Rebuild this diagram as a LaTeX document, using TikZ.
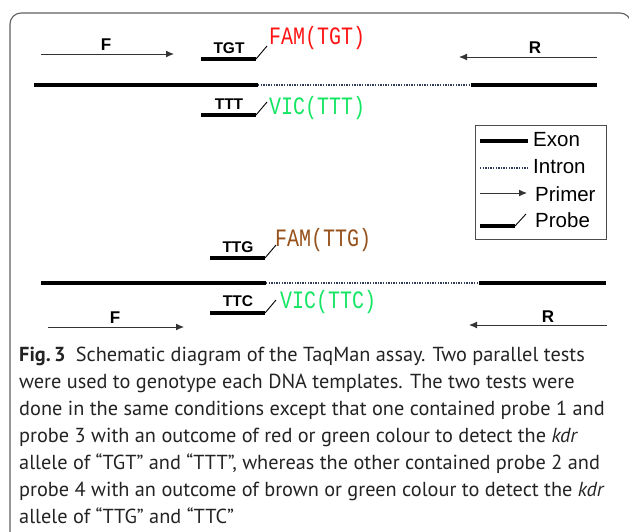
\documentclass[tikz,border=0pt]{standalone}
\usepackage{fontspec}
\usepackage{graphicx}
\setmainfont{Liberation Sans}
\newfontfamily\capfont{PT Sans}
\newfontfamily\famfont{Liberation Mono}
\usetikzlibrary{arrows.meta}
\definecolor{famred}{RGB}{255,20,20}
\definecolor{vicgreen}{RGB}{20,230,100}
\definecolor{brownc}{RGB}{150,80,25}
\definecolor{framec}{RGB}{95,95,95}
\definecolor{dotc}{RGB}{50,60,90}
\definecolor{capc}{RGB}{35,35,35}
\tikzset{
  exon/.style={line width=4pt},
  intron/.style={line width=1.3pt, color=dotc, dash pattern=on 1.3pt off 1.3pt},
  primer/.style={-{Latex[length=8pt,width=7pt]}, line width=1pt, color=black!80},
  probebar/.style={line width=3.8pt},
  probeslant/.style={line width=0.9pt},
  lab/.style={font=\bfseries\fontsize{17}{17}\selectfont, inner sep=0pt},
  seq/.style={font=\bfseries\fontsize{15.5}{15.5}\selectfont, inner sep=0pt},
  dye/.style={font=\famfont\fontsize{25}{25}\selectfont, inner sep=0pt, anchor=west},
  legtext/.style={font=\fontsize{20.5}{20.5}\selectfont, inner sep=0pt, anchor=west},
  capline/.style={font=\capfont\fontsize{20.3}{20.3}\selectfont, text=capc, inner sep=0pt, anchor=base west},
}
\begin{document}
\begin{tikzpicture}[x=1pt,y=-1pt]
\useasboundingbox (0,0) rectangle (629,531);
% frame
\begin{scope}
\clip (0,0) rectangle (629,531);
\draw[framec, line width=1.1pt, rounded corners=11pt] (10,13) rectangle (631,545);
\end{scope}

% ---------- Test 1 ----------
\coordinate (f1a) at (41,54); \coordinate (f1b) at (174,54);
\draw[primer] (f1a) -- (f1b);
\node[lab] (F1) at (106,45) {F};
\coordinate (r1a) at (597,57); \coordinate (r1b) at (459,57);
\draw[primer] (r1a) -- (r1b);
\node[lab] (R1) at (535,48) {R};

\coordinate (e1a) at (34,85); \coordinate (e1b) at (258,85);
\coordinate (i1b) at (469,85); \coordinate (e1c) at (471,85); \coordinate (e1d) at (597,85);
\draw[exon] (e1a) -- (e1b);
\draw[intron] (e1b) -- (i1b);
\draw[exon] (e1c) -- (e1d);

\coordinate (p1a) at (201,59); \coordinate (p1b) at (256,59); \coordinate (p1c) at (267,46);
\draw[probebar] (p1a) -- (p1b);
\draw[probeslant] (p1b) -- (p1c);
\node[seq] (TGT) at (229,48) {TGT};
\node[dye, text=famred] (FAM1) at (269,38) {\scalebox{0.8}[1]{FAM(TGT)}};

\coordinate (p2a) at (201,115); \coordinate (p2b) at (256,115); \coordinate (p2c) at (267,102);
\draw[probebar] (p2a) -- (p2b);
\draw[probeslant] (p2b) -- (p2c);
\node[seq] (TTT) at (229,104) {TTT};
\node[dye, text=vicgreen] (VIC1) at (269,108) {\scalebox{0.8}[1]{VIC(TTT)}};

% ---------- Legend ----------
\coordinate (lgA) at (475,125); \coordinate (lgB) at (606,239);
\draw[line width=0.9pt, color=black!70] (lgA) rectangle (lgB);
\coordinate (l1a) at (480,141); \coordinate (l1b) at (528,141);
\draw[exon] (l1a) -- (l1b);
\node[legtext] (lExon) at (533,140) {Exon};
\coordinate (l2a) at (480,168); \coordinate (l2b) at (527,168);
\draw[intron] (l2a) -- (l2b);
\node[legtext] (lIntron) at (533,167) {Intron};
\coordinate (l3a) at (480,193); \coordinate (l3b) at (527,193);
\draw[primer] (l3a) -- (l3b);
\node[legtext] (lPrimer) at (535,194) {Primer};
\coordinate (l4a) at (480,226); \coordinate (l4b) at (515,226); \coordinate (l4c) at (526,214);
\draw[probebar] (l4a) -- (l4b);
\draw[probeslant] (l4b) -- (l4c);
\node[legtext] (lProbe) at (535,220) {Probe};

% ---------- Test 2 ----------
\coordinate (p3a) at (210,258); \coordinate (p3b) at (265,258); \coordinate (p3c) at (276,245);
\draw[probebar] (p3a) -- (p3b);
\draw[probeslant] (p3b) -- (p3c);
\node[seq] (TTG) at (238,247) {TTG};
\node[dye, text=brownc] (FAM2) at (275,240) {\scalebox{0.8}[1]{FAM(TTG)}};

\coordinate (e2a) at (41,283); \coordinate (e2b) at (266,283);
\coordinate (i2b) at (477,283); \coordinate (e2c) at (479,283); \coordinate (e2d) at (606,283);
\draw[exon] (e2a) -- (e2b);
\draw[intron] (e2b) -- (i2b);
\draw[exon] (e2c) -- (e2d);

\coordinate (p4a) at (210,313); \coordinate (p4b) at (265,313); \coordinate (p4c) at (276,300);
\draw[probebar] (p4a) -- (p4b);
\draw[probeslant] (p4b) -- (p4c);
\node[seq] (TTC) at (238,301) {TTC};
\node[dye, text=vicgreen] (VIC2) at (280,302) {\scalebox{0.8}[1]{VIC(TTC)}};

\coordinate (f2a) at (48,327); \coordinate (f2b) at (184,327);
\draw[primer] (f2a) -- (f2b);
\node[lab] (F2) at (115,318) {F};
\coordinate (r2a) at (607,325); \coordinate (r2b) at (469,325);
\draw[primer] (r2a) -- (r2b);
\node[lab] (R2) at (548,317) {R};

% ---------- Caption ----------
\node[capline] (c1) at (19,361) {\textbf{Fig.\,3}\hspace{0.5em}Schematic diagram of the TaqMan assay. Two parallel tests};
\node[capline] (c2) at (19,388) {were used to genotype each DNA templates. The two tests were};
\node[capline] (c3) at (19,415) {done in the same conditions except that one contained probe 1 and};
\node[capline] (c4) at (19,442) {probe 3 with an outcome of red or green colour to detect the \textit{kdr}};
\node[capline] (c5) at (19,469) {allele of “TGT” and “TTT”, whereas the other contained probe 2 and};
\node[capline] (c6) at (19,496) {probe 4 with an outcome of brown or green colour to detect the \textit{kdr}};
\node[capline] (c7) at (19,523) {allele of “TTG” and “TTC”};
\end{tikzpicture}
\end{document}
